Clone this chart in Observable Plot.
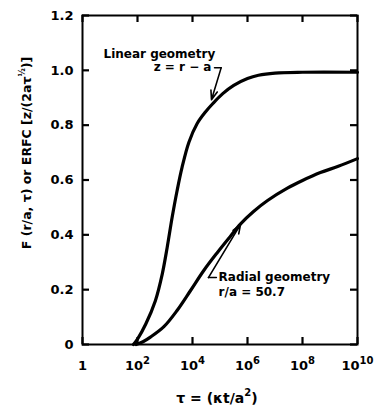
<!DOCTYPE html>
<html><head><meta charset="utf-8">
<script src="https://cdn.jsdelivr.net/npm/d3@7"></script>
<script src="https://cdn.jsdelivr.net/npm/@observablehq/plot@0.6"></script>
<style>
body{margin:0;background:#fff;}
#chart svg{font-family:"DejaVu Sans",sans-serif;font-weight:bold;}
</style>
</head><body><div id="chart"></div>
<script>
// Axis ticks
const xTicks = [1, 1e2, 1e4, 1e6, 1e8, 1e10];
const xTickLabels = ["1", "10^2", "10^4", "10^6", "10^8", "10^10"];
const yTicks = [0, 0.2, 0.4, 0.6, 0.8, 1.0, 1.2];
const yTickLabels = ["0", "0.2", "0.4", "0.6", "0.8", "1.0", "1.2"];

// Linear geometry curve: tau and F
const linearTau = [71, 100, 200, 447, 794, 1200, 1820, 2750, 4170, 7410, 14800, 29500, 56200, 1.26e5, 3.16e5, 1e6, 2.5e6, 1e7, 1e8, 1e10];
const linearF   = [0, 0.02, 0.075, 0.16, 0.257, 0.354, 0.464, 0.561, 0.646, 0.738, 0.806, 0.848, 0.88, 0.915, 0.945, 0.97, 0.982, 0.99, 0.993, 0.993];

// Radial geometry curve (r/a = 50.7)
const radialTau = [89, 158, 295, 912, 2750, 8510, 25700, 79400, 2.4e5, 5.62e5, 1.66e6, 5.37e6, 2.82e7, 1e8, 4.47e8, 2e9, 1e10];
const radialF   = [0, 0.01, 0.027, 0.065, 0.124, 0.197, 0.27, 0.335, 0.395, 0.44, 0.485, 0.525, 0.57, 0.598, 0.627, 0.65, 0.678];

// Callouts
const linearCalloutTau = [6.3e4, 1.1e5, 4.9e4];
const linearCalloutF = [1.009, 1.009, 0.893];
const radialCalloutTau = [7.4e4, 3.8e4, 5.6e5];
const radialCalloutF = [0.244, 0.244, 0.438];

const labels = [
  {tau: 5.8, F: 1.058, text: "Linear geometry", anchor: "start"},
  {tau: 4.9e4, F: 1.011, text: "z = r − a", anchor: "end"},
  {tau: 8.9e4, F: 0.244, text: "Radial geometry", anchor: "start"},
  {tau: 8.9e4, F: 0.19, text: "r/a = 50.7", anchor: "start"}
];

const linear = linearTau.map((t, i) => ({tau: t, F: linearF[i]}));
const radial = radialTau.map((t, i) => ({tau: t, F: radialF[i]}));
const linBend = linearCalloutTau.slice(0, 2).map((t, i) => ({tau: t, F: linearCalloutF[i]}));
const radBend = radialCalloutTau.slice(0, 2).map((t, i) => ({tau: t, F: radialCalloutF[i]}));
const arrows = [
  {x1: linearCalloutTau[1], y1: linearCalloutF[1], x2: linearCalloutTau[2], y2: linearCalloutF[2]},
  {x1: radialCalloutTau[1], y1: radialCalloutF[1], x2: radialCalloutTau[2], y2: radialCalloutF[2]}
];
const yMin = yTicks[0], yMax = yTicks[yTicks.length - 1];
const xMin = xTicks[0], xMax = xTicks[xTicks.length - 1];
// inward tick length (~7 px) expressed in axis units
const tickY = (yMax - yMin) * 7 / 329;
const tickXFactor = Math.pow(xMax / xMin, 7 / 275);

const svg = Plot.plot({
  width: 374,
  height: 407,
  marginLeft: 82,
  marginRight: 17,
  marginTop: 15,
  marginBottom: 63,
  style: {fontFamily: "DejaVu Sans", fontWeight: "bold", fontSize: "13px", background: "#fff"},
  x: {type: "log", domain: [xMin, xMax]},
  y: {domain: [yMin, yMax]},
  marks: [
    Plot.axisX(xTicks, {anchor: "bottom", tickSize: 0, tickPadding: 16, tickFormat: d => xTickLabels[xTicks.indexOf(d)], label: null, fontSize: 13}),
    Plot.axisY(yTicks, {anchor: "left", tickSize: 0, tickPadding: 9, tickFormat: d => yTickLabels[yTicks.indexOf(d)], label: null, fontSize: 13}),
    Plot.frame({stroke: "black", strokeWidth: 2}),
    Plot.line(linear, {x: "tau", y: "F", curve: "catmull-rom", stroke: "black", strokeWidth: 3.2}),
    Plot.line(radial, {x: "tau", y: "F", curve: "catmull-rom", stroke: "black", strokeWidth: 3.2}),
    Plot.line(linBend, {x: "tau", y: "F", stroke: "black", strokeWidth: 1.5}),
    Plot.line(radBend, {x: "tau", y: "F", stroke: "black", strokeWidth: 1.5}),
    Plot.arrow(arrows, {x1: "x1", y1: "y1", x2: "x2", y2: "y2", stroke: "black", strokeWidth: 1.6, headLength: 9, headAngle: 40}),
    Plot.text(labels.filter(d => d.anchor === "start"), {x: "tau", y: "F", text: "text", textAnchor: "start", fontSize: 12, fontWeight: "bold", fill: "black"}),
    Plot.text(labels.filter(d => d.anchor === "end"), {x: "tau", y: "F", text: "text", textAnchor: "end", fontSize: 12, fontWeight: "bold", fill: "black"}),
    // inward ticks on all four sides
    Plot.ruleX(xTicks, {x: d => d, y1: yMin, y2: yMin + tickY, stroke: "black", strokeWidth: 2.2}),
    Plot.ruleX(xTicks, {x: d => d, y1: yMax, y2: yMax - tickY, stroke: "black", strokeWidth: 2.2}),
    Plot.ruleY(yTicks, {y: d => d, x1: xMin, x2: xMin * tickXFactor, stroke: "black", strokeWidth: 2.2}),
    Plot.ruleY(yTicks, {y: d => d, x1: xMax, x2: xMax / tickXFactor, stroke: "black", strokeWidth: 2.2})
  ]
});

const s = d3.select(svg);
// superscript exponents on x tick labels
s.selectAll('[aria-label="x-axis tick label"] text').each(function() {
  const t = this.textContent;
  if (t.includes("^")) {
    const [b, e] = t.split("^");
    const el = d3.select(this);
    el.text(null);
    el.append("tspan").text(b);
    el.append("tspan").attr("dy", "-0.55em").attr("font-size", "10px").text(e);
  }
});
// y-axis title
const yl = s.append("text")
  .attr("transform", "translate(31,153) rotate(-90)")
  .attr("text-anchor", "middle")
  .attr("font-size", 12.5)
  .attr("font-weight", "bold")
  .attr("fill", "#000");
yl.append("tspan").text("F (r/a, τ) or ERFC [z/(2aτ");
yl.append("tspan").attr("font-size", 8).attr("dy", -6).text("½");
yl.append("tspan").attr("dy", 6).text(")]");
// x-axis title
const xl = s.append("text")
  .attr("x", 217).attr("y", 403)
  .attr("text-anchor", "middle")
  .attr("font-size", 14)
  .attr("font-weight", "bold")
  .attr("fill", "#000");
xl.append("tspan").text("τ = (κt/a");
xl.append("tspan").attr("font-size", 10).attr("dy", -7).text("2");
xl.append("tspan").attr("dy", 7).text(")");

document.getElementById("chart").appendChild(svg);
</script>
</body></html>
